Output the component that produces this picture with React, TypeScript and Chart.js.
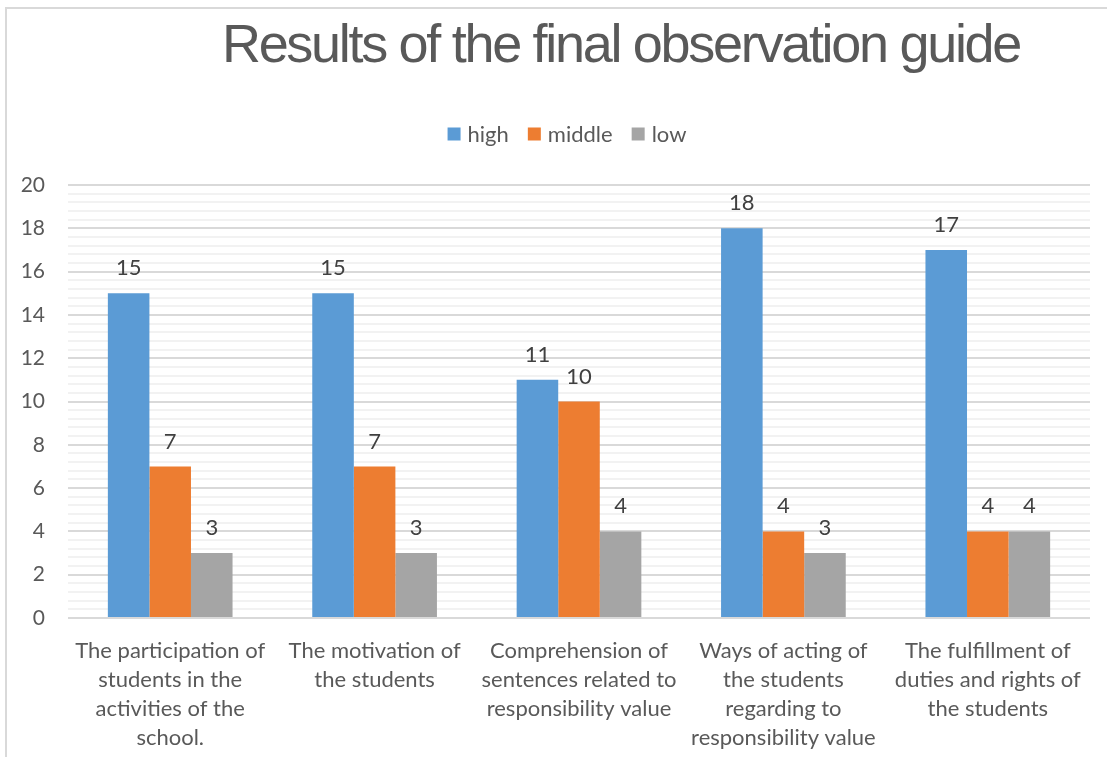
import React, { useEffect, useRef } from "react";
import { Chart, registerables } from "chart.js";

Chart.register(...registerables);

// Chart content
const chartTitle = "Results of the final observation guide";
const categories: string[][] = [
  ["The participation of", "students in the", "activities of the", "school."],
  ["The motivation of", "the students"],
  ["Comprehension of", "sentences related to", "responsibility value"],
  ["Ways of acting of", "the students", "regarding to", "responsibility value"],
  ["The fulfillment of", "duties and rights of", "the students"],
];
const seriesNames = ["high", "middle", "low"];
const highValues = [15, 15, 11, 18, 17];
const middleValues = [7, 7, 10, 4, 4];
const lowValues = [3, 3, 4, 3, 4];
const seriesColors = ["#5B9BD5", "#ED7D31", "#A5A5A5"];
const yMin = 0;
const yMax = 20;
const yLabelStep = 2;
const yGridStep = 0.4;

const FONT = "Lato, 'Noto Sans', sans-serif";

const isLabelled = (v: number) => Math.abs(v / yLabelStep - Math.round(v / yLabelStep)) < 1e-6;

// Large condensed heading across the top
const titlePlugin = {
  id: "bigTitle",
  afterDraw(chart: any) {
    const ctx = chart.ctx;
    ctx.save();
    ctx.font = "54px 'Liberation Sans', Arial, sans-serif";
    (ctx as any).letterSpacing = "-2.3px";
    ctx.fillStyle = "#595959";
    ctx.textAlign = "center";
    ctx.textBaseline = "alphabetic";
    ctx.fillText(chartTitle, 621, 62);
    ctx.restore();
  },
};

// Legend row: coloured squares followed by series names
const legendPlugin = {
  id: "legendRow",
  afterDraw(chart: any) {
    const ctx = chart.ctx;
    ctx.save();
    ctx.font = `22px ${FONT}`;
    ctx.textBaseline = "middle";
    ctx.textAlign = "left";
    const box = 13;
    const gapBoxText = 7;
    const gapItems = 19;
    const items = chart.data.datasets.map((d: any) => ({
      label: d.label,
      color: d.backgroundColor,
      w: ctx.measureText(d.label).width,
    }));
    const total =
      items.reduce((s: number, it: any) => s + box + gapBoxText + it.w, 0) + gapItems * (items.length - 1);
    let x = 567 - total / 2;
    const cy = 134;
    for (const it of items) {
      ctx.fillStyle = it.color;
      ctx.fillRect(x, cy - box / 2, box, box);
      x += box + gapBoxText;
      ctx.fillStyle = "#595959";
      ctx.fillText(it.label, x, cy + 1);
      x += it.w + gapItems;
    }
    ctx.restore();
  },
};

// Value labels above each bar
const valueLabelPlugin = {
  id: "valueLabels",
  afterDatasetsDraw(chart: any) {
    const ctx = chart.ctx;
    ctx.save();
    ctx.font = `22px ${FONT}`;
    ctx.fillStyle = "#404040";
    ctx.textAlign = "center";
    ctx.textBaseline = "middle";
    chart.data.datasets.forEach((ds: any, i: number) => {
      const meta = chart.getDatasetMeta(i);
      meta.data.forEach((bar: any, j: number) => {
        ctx.fillText(String(ds.data[j]), bar.x, bar.y - 25);
      });
    });
    ctx.restore();
  },
};

export default function App() {
  const canvasRef = useRef<HTMLCanvasElement | null>(null);

  useEffect(() => {
    if (!canvasRef.current) return;
    const values = [highValues, middleValues, lowValues];
    const chart = new Chart(canvasRef.current, {
      type: "bar",
      data: {
        labels: categories,
        datasets: seriesNames.map((name, i) => ({
          label: name,
          data: values[i],
          backgroundColor: seriesColors[i],
          borderWidth: 0,
          barPercentage: 1,
          categoryPercentage: 0.61,
        })),
      },
      options: {
        responsive: false,
        animation: false,
        layout: { padding: { left: 0, right: 17, top: 185, bottom: 0 } },
        plugins: {
          legend: { display: false },
          title: { display: false },
          tooltip: { enabled: false },
        },
        scales: {
          x: {
            grid: { display: false, drawTicks: false },
            border: { display: false },
            ticks: {
              autoSkip: false,
              maxRotation: 0,
              minRotation: 0,
              padding: 18,
              color: "#595959",
              font: { family: FONT, size: 22, lineHeight: 1.32 },
            },
            afterFit(scale: any) {
              scale.height = 139;
            },
          },
          y: {
            min: yMin,
            max: yMax,
            border: { display: false },
            grid: {
              drawTicks: false,
              lineWidth: 2,
              color: (c: any) => (isLabelled(c.tick.value) ? "#d9d9d9" : "#f2f2f2"),
            },
            ticks: {
              stepSize: yGridStep,
              autoSkip: false,
              padding: 23,
              color: "#595959",
              font: { family: FONT, size: 21 },
              callback: (v: any) => (isLabelled(Number(v)) ? String(Math.round(Number(v))) : ""),
            },
            afterFit(scale: any) {
              scale.width = 68;
            },
          },
        },
      },
      plugins: [titlePlugin, legendPlugin, valueLabelPlugin],
    });
    return () => chart.destroy();
  }, []);

  return (
    <div
      style={{
        position: "absolute",
        left: 0,
        top: 0,
        width: 1107,
        height: 757,
        background: "#ffffff",
        overflow: "hidden",
      }}
    >
      <div
        style={{
          position: "absolute",
          left: 5,
          top: 7,
          width: 1120,
          height: 770,
          borderLeft: "2px solid #d9d9d9",
          borderTop: "2px solid #d9d9d9",
        }}
      />
      <canvas
        ref={canvasRef}
        width={1107}
        height={757}
        style={{ position: "absolute", left: 0, top: 0, width: 1107, height: 757 }}
      />
    </div>
  );
}
